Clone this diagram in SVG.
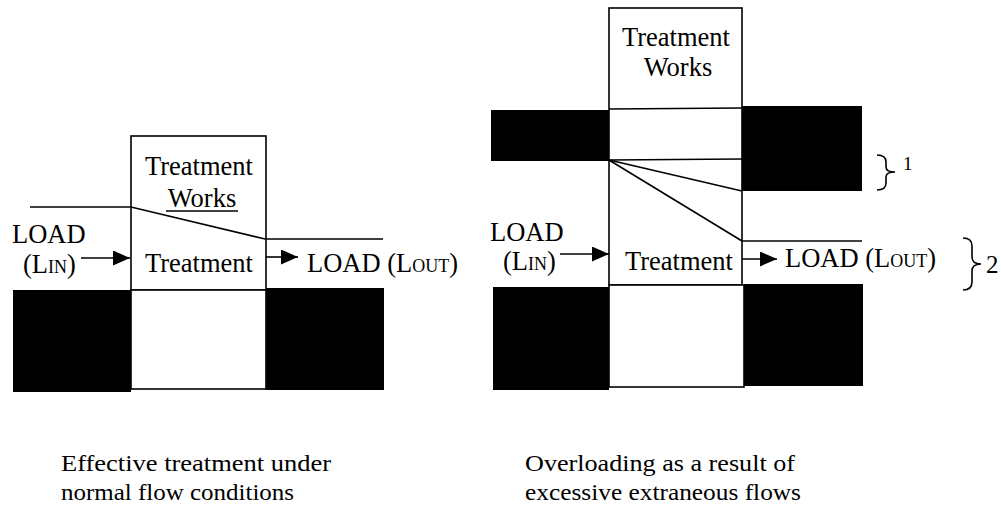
<svg xmlns="http://www.w3.org/2000/svg" width="1001" height="508" viewBox="0 0 1001 508" font-family="'Liberation Serif', 'Times New Roman', 'DejaVu Serif', serif">
<style>
text{font-family:'Liberation Serif','Times New Roman','DejaVu Serif',serif;fill:#000}
.lbl{font-size:26.5px}
.sub{font-size:18px}
.cap{font-size:23px}
.ln{stroke:#000;stroke-width:1.6;fill:none}
.box{stroke:#000;stroke-width:1.6;fill:#fff}
.blk{fill:#000}
</style>
<defs>
<marker id="ah" markerUnits="userSpaceOnUse" markerWidth="18" markerHeight="16" refX="17" refY="7.5" orient="auto">
<path d="M0,0 L17,7.5 L0,15 Z" fill="#000"/>
</marker>
</defs>

<!-- LEFT DIAGRAM -->
<g id="left-walls">
<rect class="blk" x="13" y="290" width="118" height="102"/>
<rect class="blk" x="266" y="288" width="118" height="102"/>
</g>
<g id="left-treatment-works">
<rect class="box" x="131" y="136" width="135" height="154"/>
<rect class="box" x="131" y="290" width="135" height="99"/>
<text class="lbl" x="199" y="175" text-anchor="middle">Treatment</text>
<text class="lbl" x="202" y="207" text-anchor="middle">Works</text>
<line class="ln" x1="166" y1="211" x2="238" y2="211"/>
<text class="lbl" x="199" y="272" text-anchor="middle">Treatment</text>
</g>
<g id="left-load-in">
<text class="lbl" x="12" y="243">LOAD</text>
<text class="lbl" x="23" y="273">(L<tspan class="sub">IN</tspan>)</text>
</g>
<g id="left-load-out">
<text class="lbl" x="307" y="272">LOAD (L<tspan class="sub">OUT</tspan>)</text>
</g>

<!-- RIGHT DIAGRAM -->
<g id="right-walls">
<rect class="blk" x="491" y="110" width="118" height="51"/>
<rect class="blk" x="742" y="106" width="120" height="85"/>
<rect class="blk" x="493" y="287" width="116" height="103"/>
<rect class="blk" x="744" y="284" width="119" height="102"/>
</g>
<g id="right-treatment-works">
<rect class="box" x="609" y="8" width="133" height="277"/>
<rect class="box" x="609" y="285" width="135" height="102"/>
<line class="ln" x1="609" y1="109" x2="742" y2="108"/>
<line class="ln" x1="609" y1="160" x2="742" y2="159"/>
<text class="lbl" x="676" y="46" text-anchor="middle">Treatment</text>
<text class="lbl" x="678" y="76" text-anchor="middle">Works</text>
<text class="lbl" x="679" y="270" text-anchor="middle">Treatment</text>
</g>
<g id="right-load-in">
<text class="lbl" x="490" y="241">LOAD</text>
<text class="lbl" x="503" y="270">(L<tspan class="sub">IN</tspan>)</text>
</g>
<g id="right-load-out">
<text class="lbl" x="785" y="267">LOAD (L<tspan class="sub">OUT</tspan>)</text>
</g>
<g id="brace-1">
<path class="ln" d="M877,155 Q886,155 886,162 L886,167 Q886,172 895,172 Q886,172 886,177 L886,183 Q886,190 877,190"/>
<text x="903" y="170" style="font-size:19px">1</text>
</g>
<g id="brace-2">
<path class="ln" d="M963,238 Q972,238 972,246 L972,257 Q972,264 981,264 Q972,264 972,271 L972,282 Q972,290 963,290"/>
<text x="986" y="273" style="font-size:25px">2</text>
</g>

<!-- CONNECTORS / FLOW LINES -->
<g id="connectors">
<polyline class="ln" points="30,207 131,207 265,239 383,239"/>
<line class="ln" x1="81" y1="258" x2="130" y2="258" marker-end="url(#ah)"/>
<line class="ln" x1="266" y1="257" x2="298" y2="257" marker-end="url(#ah)"/>
<line class="ln" x1="609" y1="160" x2="742" y2="191"/>
<line class="ln" x1="609" y1="160" x2="742" y2="241"/>
<line class="ln" x1="742" y1="241" x2="862" y2="241"/>
<line class="ln" x1="560" y1="254" x2="609" y2="254" marker-end="url(#ah)"/>
<line class="ln" x1="742" y1="259" x2="777" y2="259" marker-end="url(#ah)"/>
</g>

<!-- CAPTIONS -->
<g id="captions">
<text class="cap" x="61" y="471" textLength="270" lengthAdjust="spacingAndGlyphs">Effective treatment under</text>
<text class="cap" x="61" y="500" textLength="233" lengthAdjust="spacingAndGlyphs">normal flow conditions</text>
<text class="cap" x="525" y="471" textLength="270" lengthAdjust="spacingAndGlyphs">Overloading as a result of</text>
<text class="cap" x="525" y="500" textLength="276" lengthAdjust="spacingAndGlyphs">excessive extraneous flows</text>
</g>
</svg>
